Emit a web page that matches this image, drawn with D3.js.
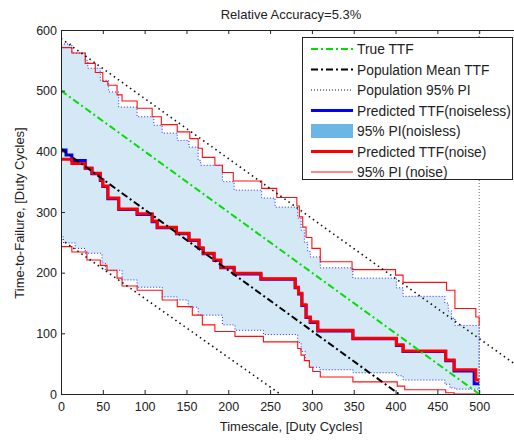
<!DOCTYPE html>
<html>
<head>
<meta charset="utf-8">
<script src="https://cdn.jsdelivr.net/npm/d3@7"></script>
<style>
  body { margin: 0; background: #fff; }
  svg { display: block; font-family: "Liberation Sans", Arial, sans-serif; }
</style>
</head>
<body>
<svg id="chart" width="514" height="440"></svg>
<script>
// --- data ---
const titleText = "Relative Accuracy=5.3%";
const xTicks = [0, 50, 100, 150, 200, 250, 300, 350, 400, 450, 500];
const yTicks = [0, 100, 200, 300, 400, 500, 600];

// straight reference lines (end points)
const trueX = [0, 500], trueY = [500, 0];
const meanX = [0, 404], meanY = [404, 0];
const popUpX = [0, 550], popUpY = [586, 42];
const popLoX = [0, 262], popLoY = [255, 0];
const eolX = [500, 500], eolY = [0, 600];

// 95% PI (noiseless), step bounds of the shaded band
const pinUpX = [0, 13, 29, 32, 47, 57, 69, 91, 111, 121, 139, 153, 164, 167, 193, 207, 240, 256, 283, 287, 291, 295, 298, 310, 349, 401, 409, 459, 463, 467, 471, 500];
const pinUpY = [577, 562, 550, 537, 517, 498, 473, 457, 443, 430, 418, 407, 385, 377, 350, 336, 323, 308, 290, 270, 250, 235, 226, 208, 191, 175, 161, 150, 137, 125, 113, 113];
const pinLoX = [0, 3, 17, 29, 49, 53, 73, 91, 121, 139, 152, 164, 193, 208, 242, 283, 287, 292, 297, 309, 349, 401, 409, 459, 465, 471, 500];
const pinLoY = [259, 249, 240, 232, 216, 204, 188, 176, 160, 155, 143, 130, 114, 105, 98, 85, 70, 55, 44, 40, 35, 30, 23, 16, 10, 8, 0];

// 95% PI (noise), thin red steps
const pnUpX = [0, 13, 29, 41, 50, 56, 67, 73, 91, 109, 120, 139, 154, 164, 169, 184, 193, 206, 240, 258, 282, 285, 289, 293, 300, 310, 348, 400, 409, 461, 471, 496, 500];
const pnUpY = [571, 562, 545, 530, 515, 509, 493, 483, 471, 457, 444, 432, 421, 405, 390, 377, 365, 351, 339, 324, 310, 292, 275, 258, 240, 218, 205, 196, 184, 171, 141, 127, 113];
const pnLoX = [0, 13, 31, 47, 55, 67, 73, 91, 121, 139, 157, 169, 184, 208, 242, 283, 287, 291, 297, 301, 310, 349, 402, 411, 460, 470, 500];
const pnLoY = [243, 234, 221, 212, 204, 191, 178, 171, 155, 144, 130, 114, 103, 95, 86, 75, 64, 55, 44, 37, 28, 20, 13, 7, 2, 0, 0];

// predicted TTF
const predNlX = [0, 6, 13, 29, 37, 47, 50, 56, 69, 91, 109, 115, 138, 153, 165, 170, 183, 191, 207, 239, 280, 284, 288, 293, 298, 307, 349, 401, 409, 460, 470, 494, 500];
const predNlY = [402, 394, 385, 372, 363, 352, 342, 322, 304, 296, 284, 274, 264, 253, 240, 231, 220, 208, 198, 189, 175, 165, 146, 126, 118, 104, 91, 80, 70, 55, 38, 17, 17];
const predNX = [0, 13, 29, 37, 47, 50, 56, 69, 91, 109, 115, 138, 153, 165, 170, 183, 191, 207, 239, 280, 284, 288, 293, 298, 307, 349, 401, 409, 460, 470, 496, 500];
const predNY = [387, 380, 372, 364, 353, 343, 323, 305, 297, 285, 275, 265, 254, 241, 232, 221, 209, 199, 190, 176, 166, 147, 127, 119, 105, 92, 81, 71, 56, 40, 23, 23];

const legendLabels = ["True TTF", "Population Mean TTF", "Population 95% PI", "Predicted TTF(noiseless)", "95% PI(noisless)", "Predicted TTF(noise)", "95% PI (noise)"];

// --- chart ---
const svg = d3.select("#chart");
const x = d3.scaleLinear().domain([0, 550]).range([61, 521]);
const y = d3.scaleLinear().domain([0, 600]).range([394, 30]);

const zip = (xs, ys) => xs.map((v, i) => [v, ys[i]]);
// corner points of a stairs series (value held until next x)
function stairs(xs, ys) {
    const pts = [];
    xs.forEach((v, i) => {
        if (i > 0) pts.push([v, ys[i - 1]]);
        pts.push([v, ys[i]]);
    });
    return pts;
}

const line = d3.line().x(d => x(d[0])).y(d => y(d[1]));
const stepLine = d3.line().x(d => x(d[0])).y(d => y(d[1])).curve(d3.curveStepAfter);

svg.append("defs").append("clipPath").attr("id", "plotclip")
    .append("rect").attr("x", 61).attr("y", 30).attr("width", 460).attr("height", 364);

const plot = svg.append("g").attr("clip-path", "url(#plotclip)");

// shaded band (noiseless PI) with dotted blue edge
const band = stairs(pinUpX, pinUpY).concat(stairs(pinLoX, pinLoY).reverse());
plot.append("path")
    .attr("d", line(band) + "Z")
    .attr("fill", "#d4e8f6")
    .attr("stroke", "#1f2cff")
    .attr("stroke-width", 1)
    .attr("stroke-dasharray", "1,2");

// end of life marker
plot.append("path").attr("d", line(zip(eolX, eolY)))
    .attr("stroke", "#666").attr("stroke-width", 1).attr("stroke-dasharray", "1,2").attr("fill", "none");

// noise PI
[[pnUpX, pnUpY], [pnLoX, pnLoY]].forEach(([xs, ys]) => {
    plot.append("path").attr("d", stepLine(zip(xs, ys)))
        .attr("fill", "none").attr("stroke", "#ff1010").attr("stroke-width", 1.1);
});

// predicted TTF
plot.append("path").attr("d", stepLine(zip(predNlX, predNlY)))
    .attr("fill", "none").attr("stroke", "#0000ff").attr("stroke-width", 3);
plot.append("path").attr("d", stepLine(zip(predNX, predNY)))
    .attr("fill", "none").attr("stroke", "#ff0000").attr("stroke-width", 3);

// population PI
[[popUpX, popUpY], [popLoX, popLoY]].forEach(([xs, ys]) => {
    plot.append("path").attr("d", line(zip(xs, ys)))
        .attr("fill", "none").attr("stroke", "#111").attr("stroke-width", 1.6)
        .attr("stroke-dasharray", "1.5,3.5");
});

// true TTF and population mean
plot.append("path").attr("d", line(zip(trueX, trueY)))
    .attr("fill", "none").attr("stroke", "#00e000").attr("stroke-width", 2)
    .attr("stroke-dasharray", "7,3,2,3");
plot.append("path").attr("d", line(zip(meanX, meanY)))
    .attr("fill", "none").attr("stroke", "#000").attr("stroke-width", 2)
    .attr("stroke-dasharray", "7,3,2,3");

// axes
const axisStyle = g => {
    g.select(".domain").attr("stroke", "#222");
    g.selectAll(".tick line").attr("stroke", "#222");
    g.selectAll(".tick text").attr("fill", "#222").style("font-size", "12.5px").style("font-family", "Liberation Sans, Arial, sans-serif");
};
svg.append("g").attr("transform", "translate(0,394)")
    .call(d3.axisBottom(x).tickValues(xTicks).tickSizeInner(-4).tickSizeOuter(0).tickPadding(8))
    .call(axisStyle);
svg.append("g").attr("transform", "translate(0,30)")
    .call(d3.axisTop(x).tickValues(xTicks).tickSizeInner(-4).tickSizeOuter(0).tickFormat(""))
    .call(axisStyle);
svg.append("g").attr("transform", "translate(61,0)")
    .call(d3.axisLeft(y).tickValues(yTicks).tickSizeInner(-4).tickSizeOuter(0).tickPadding(4))
    .call(axisStyle);

// titles
svg.append("text").attr("x", 291).attr("y", 19).attr("text-anchor", "middle")
    .style("font-size", "13px").attr("fill", "#222").text(titleText);
svg.append("text").attr("x", 291).attr("y", 431).attr("text-anchor", "middle")
    .style("font-size", "13px").attr("fill", "#222").text("Timescale, [Duty Cycles]");
svg.append("text").attr("transform", "translate(24,213) rotate(-90)").attr("text-anchor", "middle")
    .style("font-size", "13px").attr("fill", "#222").text("Time-to-Failure, [Duty Cycles]");

// legend
const lg = svg.append("g");
lg.append("rect").attr("x", 302.5).attr("y", 37.5).attr("width", 210).attr("height", 142)
    .attr("fill", "#fff").attr("stroke", "#222");
const sw = [
    { stroke: "#00e000", w: 2, dash: "7,3,2,3" },
    { stroke: "#000", w: 2, dash: "7,3,2,3" },
    { stroke: "#111", w: 1.2, dash: "1,2" },
    { stroke: "#0000ff", w: 3 },
    { fill: "#6cb6e6" },
    { stroke: "#ff0000", w: 3 },
    { stroke: "#ff1010", w: 1 }
];
legendLabels.forEach((lab, i) => {
    const yy = 49 + i * 20.5;
    const s = sw[i];
    if (s.fill) {
        lg.append("rect").attr("x", 311).attr("y", yy - 7).attr("width", 42).attr("height", 14).attr("fill", s.fill);
    } else {
        lg.append("line").attr("x1", 311).attr("x2", 353).attr("y1", yy).attr("y2", yy)
            .attr("stroke", s.stroke).attr("stroke-width", s.w).attr("stroke-dasharray", s.dash || null);
    }
    lg.append("text").attr("x", 357).attr("y", yy + 5).style("font-size", "13.8px").attr("fill", "#222").text(lab);
});
</script>
</body>
</html>
